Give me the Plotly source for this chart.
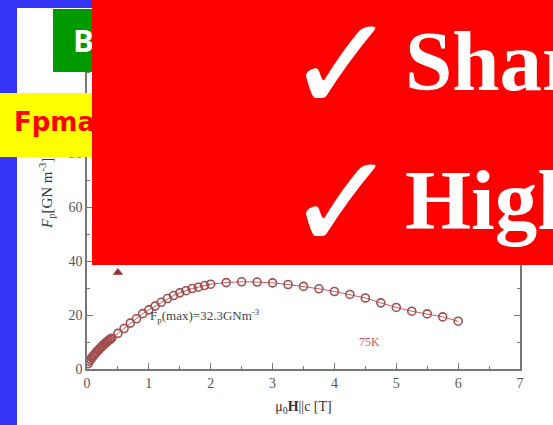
import plotly.graph_objects as go

# ---- data ----
field_T = [0.02, 0.04, 0.06, 0.08, 0.10, 0.12, 0.14, 0.16, 0.18, 0.20,
           0.22, 0.24, 0.26, 0.28, 0.30, 0.32, 0.34, 0.36, 0.38,
           0.4, 0.5, 0.6, 0.7, 0.8, 0.9, 1.0, 1.1, 1.2, 1.3, 1.4, 1.5,
           1.6, 1.7, 1.8, 1.9, 2.0,
           2.25, 2.5, 2.75, 3.0, 3.25, 3.5, 3.75, 4.0, 4.25, 4.5, 4.75,
           5.0, 5.25, 5.5, 5.75, 6.0]
fp_75K = [2.0, 2.9, 3.6, 4.2, 4.8, 5.3, 5.9, 6.4, 6.9, 7.4,
          7.9, 8.3, 8.8, 9.2, 9.6, 10.0, 10.4, 10.8, 11.1,
          11.4, 13.2, 15.0, 17.0, 18.6, 20.5, 21.9, 23.3, 24.7, 26.1, 27.2, 28.2,
          29.0, 29.8, 30.3, 30.9, 31.4,
          32.0, 32.3, 32.2, 31.9, 31.3, 30.6, 29.7, 28.7, 27.6, 26.3, 24.5,
          22.8, 21.4, 20.4, 19.3, 17.7]
legend_marker_x = [0.5]
legend_marker_y = [35.7]

x_ticks = [0, 1, 2, 3, 4, 5, 6, 7]
y_ticks = [0, 20, 40, 60, 80, 100, 120]

W, H = 553, 425
L, R, T, B = 87, 33, 45, 56
PW, PH = W - L - R, H - T - B


def px(xp):
    return (xp - L) / PW


def py(yp):
    return (H - B - yp) / PH


fig = go.Figure()
fig.add_trace(go.Scatter(
    x=field_T, y=fp_75K, mode="lines+markers",
    line=dict(color="#c46060", width=1),
    marker=dict(symbol="circle-open", size=8, color="#a04e4e",
                line=dict(width=1.6, color="#a04e4e")),
    showlegend=False))
fig.add_trace(go.Scatter(
    x=legend_marker_x, y=legend_marker_y, mode="markers",
    marker=dict(symbol="triangle-up", size=9, color="#992e2e"),
    showlegend=False))

axis_common = dict(showline=True, linecolor="#777", linewidth=1.5, mirror="ticks",
                   ticks="inside", ticklen=6, tickwidth=1.3, tickcolor="#777",
                   showgrid=False, zeroline=False,
                   tickfont=dict(family="Liberation Serif", size=14, color="#555"))

fig.update_xaxes(range=[0, 7], tickvals=x_ticks,
                 minor=dict(ticks="inside", ticklen=3, dtick=0.5, tickcolor="#777"),
                 title=dict(text="μ<sub>0</sub><b>H</b>||c [T]",
                            font=dict(family="Liberation Serif", size=14, color="#333"),
                            standoff=12),
                 **axis_common)
fig.update_yaxes(range=[0, 120], tickvals=y_ticks,
                 minor=dict(ticks="inside", ticklen=3, dtick=10, tickcolor="#777"),
                 **axis_common)

ann = []
# y axis title
ann.append(dict(text="<i>F</i><sub>p</sub>[GN m<sup>-3</sup>]", textangle=-90,
                xref="paper", yref="paper", x=px(47), y=py(194),
                xanchor="center", yanchor="middle", showarrow=False,
                font=dict(family="Liberation Serif", size=15, color="#333")))
# in-plot labels
ann.append(dict(text="F<sub>p</sub>(max)=32.3GNm<sup>-3</sup>", x=0.98, y=19.8,
                xref="x", yref="y", xanchor="left", yanchor="middle", showarrow=False,
                font=dict(family="Liberation Serif", size=13, color="#444")))
ann.append(dict(text="75K", x=4.56, y=10, xref="x", yref="y",
                xanchor="center", yanchor="middle", showarrow=False,
                font=dict(family="Liberation Serif", size=12, color="#d05555")))
# yellow box
ann.append(dict(text=" ", xref="paper", yref="paper", x=px(0), y=py(93),
                xanchor="left", yanchor="top", showarrow=False,
                width=92, height=64, bgcolor="#ffff00", borderpad=0, borderwidth=0))
ann.append(dict(text="<b>Fpmax</b>", xref="paper", yref="paper", x=px(12), y=py(122),
                xanchor="left", yanchor="middle", showarrow=False,
                font=dict(family="DejaVu Sans", size=26, color="#ff0000")))
# green box
ann.append(dict(text=" ", xref="paper", yref="paper", x=px(53), y=py(9),
                xanchor="left", yanchor="top", showarrow=False,
                width=39, height=63, bgcolor="#009900", borderpad=0, borderwidth=0))
ann.append(dict(text="<b>B</b>", xref="paper", yref="paper", x=px(71), y=py(40),
                xanchor="left", yanchor="middle", showarrow=False,
                font=dict(family="Open Sans", size=31, color="#ffffff")))
# red box
ann.append(dict(text=" ", xref="paper", yref="paper", x=px(92), y=py(0),
                xanchor="left", yanchor="top", showarrow=False,
                width=461, height=265, bgcolor="#ff0000", borderpad=0, borderwidth=0))
for ck_y, word, word_y in [(65.5, "Sharp", 61), (203.5, "High", 200)]:
    ann.append(dict(text="✓", xref="paper", yref="paper", x=px(284), y=py(ck_y),
                    xanchor="left", yanchor="middle", showarrow=False,
                    font=dict(family="DejaVu Sans", size=134, color="#ffffff")))
    ann.append(dict(text="<b>" + word + "</b>", xref="paper", yref="paper",
                    x=px(403), y=py(word_y),
                    xanchor="left", yanchor="middle", showarrow=False,
                    font=dict(family="Liberation Serif", size=85, color="#ffffff")))

shapes = [
    dict(type="rect", xref="paper", yref="paper", x0=px(0), x1=px(17), y0=py(425), y1=py(0),
         fillcolor="#3535f5", line=dict(width=0), layer="above"),
    dict(type="rect", xref="paper", yref="paper", x0=px(0), x1=px(92), y0=py(8), y1=py(0),
         fillcolor="#3535f5", line=dict(width=0), layer="above"),
]

fig.update_layout(width=W, height=H, margin=dict(l=L, r=R, t=T, b=B),
                  paper_bgcolor="white", plot_bgcolor="white",
                  annotations=ann, shapes=shapes, showlegend=False)

fig.write_html("out.html", config={"displayModeBar": False},
               post_script="document.body.style.margin='0';")
